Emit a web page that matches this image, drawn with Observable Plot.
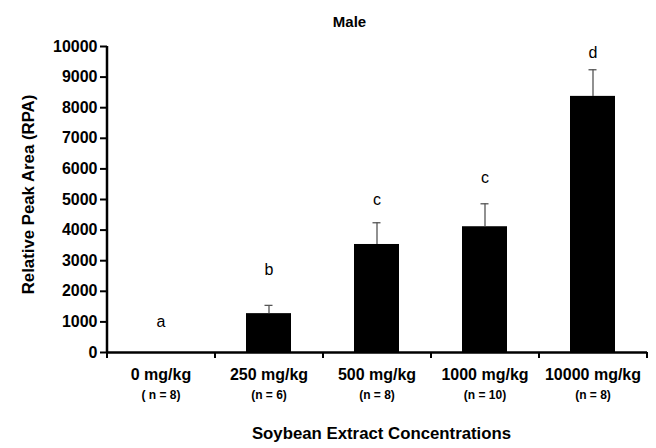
<!DOCTYPE html>
<html>
<head>
<meta charset="utf-8">
<script src="https://cdn.jsdelivr.net/npm/d3@7"></script>
<script src="https://cdn.jsdelivr.net/npm/@observablehq/plot@0.6"></script>
<style>
  html, body { margin: 0; padding: 0; background: #fff; }
  #chart { width: 656px; height: 448px; }
</style>
</head>
<body>
<div id="chart"></div>
<script>
const categories = ["0 mg/kg", "250 mg/kg", "500 mg/kg", "1000 mg/kg", "10000 mg/kg"];
const nLabels = ["( n = 8)", "(n = 6)", "(n = 8)", "(n = 10)", "(n = 8)"];
const means = [0, 1270, 3530, 4110, 8370];
const errors = [0, 270, 710, 750, 870];
const letters = ["a", "b", "c", "c", "d"];
const letterY = [1000, 2700, 5000, 5700, 9800];
const yTicks = [0, 1000, 2000, 3000, 4000, 5000, 6000, 7000, 8000, 9000, 10000];
const title = "Male";
const yTitle = "Relative Peak Area (RPA)";
const xTitle = "Soybean Extract Concentrations";

const data = categories.map((c, i) => ({
  cat: c, n: nLabels[i], mean: means[i], top: means[i] + errors[i],
  letter: letters[i], ly: letterY[i]
}));

const font = "'Liberation Sans', Arial, Helvetica, sans-serif";

function axesLines(index, scales, values, dims) {
  const {width, height, marginLeft, marginRight, marginTop, marginBottom} = dims;
  const g = d3.create("svg:g").attr("stroke", "#000");
  const y0 = height - marginBottom;
  const n = categories.length;
  const w = width - marginLeft - marginRight;
  for (let i = 0; i <= n; i++) {
    const x = marginLeft + i * w / n;
    g.append("line").attr("x1", x).attr("x2", x).attr("y1", y0).attr("y2", y0 + 6).attr("stroke-width", 2);
  }
  g.append("line").attr("x1", marginLeft).attr("x2", marginLeft)
    .attr("y1", marginTop).attr("y2", y0 + 1).attr("stroke-width", 2.5);
  return g.node();
}

const chart = Plot.plot({
  width: 656,
  height: 448,
  marginLeft: 107,
  marginRight: 9,
  marginTop: 46,
  marginBottom: 96,
  style: { fontFamily: font, background: "#fff", color: "#000", overflow: "visible" },
  x: { domain: categories, paddingInner: 0.58, paddingOuter: 0.29, axis: null },
  y: { domain: [0, 10000], axis: null },
  marks: [
    Plot.barY(data, { x: "cat", y: "mean", fill: "#000" }),
    Plot.ruleX(data, { x: "cat", y1: "mean", y2: "top", stroke: "#555", strokeWidth: 1.3 }),
    Plot.tickY(data.filter(d => d.top > d.mean), { x: "cat", y: "top", stroke: "#555", strokeWidth: 1.3, insetLeft: 18.5, insetRight: 18.5 }),
    Plot.ruleY([0], { stroke: "#000", strokeWidth: 2.5 }),
    axesLines,
    Plot.axisY({
      ticks: yTicks, tickSize: 7, tickPadding: 3, tickFormat: d3.format("d"),
      fontSize: 16, fontWeight: "bold", label: null, strokeWidth: 2
    }),
    Plot.text(data, { x: "cat", y: "ly", text: "letter", fontSize: 16, fill: "#000" }),
    Plot.text(data, { x: "cat", text: "cat", frameAnchor: "bottom", dy: 27, fontSize: 16, fontWeight: "bold", fill: "#000" }),
    Plot.text(data, { x: "cat", text: "n", frameAnchor: "bottom", dy: 46, fontSize: 12, fontWeight: "bold", fill: "#000" }),
    Plot.text([xTitle], { frameAnchor: "bottom", dx: 4, dy: 86, fontSize: 16.8, fontWeight: "bold", fill: "#000" }),
    Plot.text([yTitle], { frameAnchor: "left", textAnchor: "middle", dx: -79, dy: -5, rotate: -90, fontSize: 16.8, fontWeight: "bold", fill: "#000" }),
    Plot.text([title], { frameAnchor: "top", dx: -28, dy: -30, fontSize: 15, fontWeight: "bold", fill: "#000" })
  ]
});

document.getElementById("chart").appendChild(chart);
</script>
</body>
</html>
